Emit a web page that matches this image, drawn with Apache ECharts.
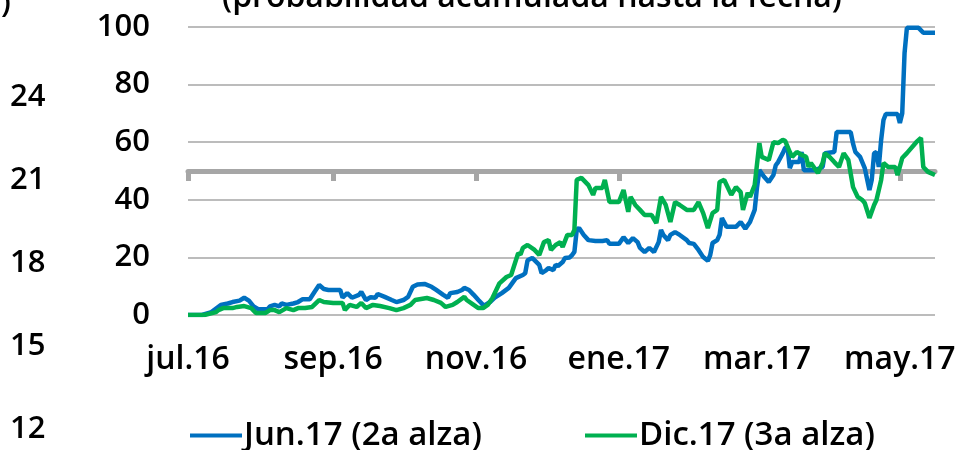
<!DOCTYPE html>
<html><head><meta charset="utf-8">
<script src="https://cdn.jsdelivr.net/npm/echarts@6/dist/echarts.min.js"></script>
<style>html,body{margin:0;padding:0;background:#fff}#c{width:959px;height:450px}</style>
</head><body><div id="c"></div>
<script>
const tickDates = ['2016-07-01','2016-09-01','2016-11-01','2017-01-01','2017-03-01','2017-05-01'];
const tickLabels = ['jul.16','sep.16','nov.16','ene.17','mar.17','may.17'];
const yTicks = [0,20,40,60,80,100];
const seriesNames = ['Jun.17 (2a alza)','Dic.17 (3a alza)'];
const sideLabels = ['24','21','18','15','12'];
const titleText = '(probabilidad acumulada hasta la fecha)';

const junDates = ['2016-07-01','2016-07-07','2016-07-11','2016-07-15','2016-07-18','2016-07-20','2016-07-23','2016-07-25','2016-07-27','2016-07-29','2016-07-31','2016-08-04','2016-08-05','2016-08-07','2016-08-09','2016-08-10','2016-08-12','2016-08-15','2016-08-17','2016-08-19','2016-08-22','2016-08-24','2016-08-26','2016-08-28','2016-08-30','2016-09-04','2016-09-05','2016-09-07','2016-09-09','2016-09-12','2016-09-13','2016-09-15','2016-09-17','2016-09-19','2016-09-20','2016-09-23','2016-09-26','2016-09-28','2016-10-01','2016-10-03','2016-10-05','2016-10-07','2016-10-10','2016-10-13','2016-10-15','2016-10-18','2016-10-20','2016-10-21','2016-10-24','2016-10-26','2016-10-27','2016-10-29','2016-10-31','2016-11-02','2016-11-04','2016-11-05','2016-11-07','2016-11-09','2016-11-12','2016-11-15','2016-11-18','2016-11-21','2016-11-22','2016-11-23','2016-11-25','2016-11-28','2016-11-29','2016-12-01','2016-12-02','2016-12-04','2016-12-05','2016-12-06','2016-12-08','2016-12-09','2016-12-11','2016-12-12','2016-12-13','2016-12-14','2016-12-15','2016-12-17','2016-12-19','2016-12-22','2016-12-25','2016-12-27','2016-12-28','2017-01-01','2017-01-03','2017-01-05','2017-01-07','2017-01-09','2017-01-10','2017-01-12','2017-01-14','2017-01-16','2017-01-18','2017-01-19','2017-01-20','2017-01-22','2017-01-23','2017-01-25','2017-01-27','2017-01-30','2017-01-31','2017-02-02','2017-02-04','2017-02-06','2017-02-08','2017-02-09','2017-02-10','2017-02-12','2017-02-13','2017-02-14','2017-02-16','2017-02-20','2017-02-22','2017-02-24','2017-02-26','2017-02-28','2017-03-01','2017-03-02','2017-03-04','2017-03-06','2017-03-08','2017-03-09','2017-03-10','2017-03-12','2017-03-13','2017-03-14','2017-03-15','2017-03-16','2017-03-19','2017-03-20','2017-03-21','2017-03-26','2017-03-29','2017-03-30','2017-04-03','2017-04-04','2017-04-07','2017-04-10','2017-04-11','2017-04-12','2017-04-14','2017-04-16','2017-04-18','2017-04-19','2017-04-20','2017-04-21','2017-04-22','2017-04-23','2017-04-24','2017-04-25','2017-04-30','2017-05-01','2017-05-02','2017-05-03','2017-05-04','2017-05-09','2017-05-11','2017-05-16'];
const junValues = [0,0,1,3.5,4,4.5,5,6,5,3,2,2,3,3.5,3,4,3.5,4,4.5,5.5,5.5,8,10.4,9,8.7,8.7,6,7.6,6,7,8,5.2,6.2,6,7.3,6.3,5.2,4.5,5.2,6.3,9.8,10.6,10.8,9.8,8.7,7,6,7.6,8,8.7,9.4,8.7,7,5.2,3.5,3.5,4.5,6,7.6,9.4,12.8,13.9,14.5,19,19.8,17.4,14.5,15.6,16.3,15.6,17.4,17,18.4,19.8,20,20.8,21.9,29.5,30.2,27.8,26,25.7,25.7,26,24.7,24.7,27,25,26.7,25.3,23.3,21.9,23.3,21.9,25.3,29.5,27.8,26,27.8,28.8,27.8,26,25,24.7,22.6,20.1,18.8,20.8,25,26,27.8,33.7,30.6,30.6,32.3,30,32.3,36.5,44.4,50.3,48,46.2,48.6,52,53.1,56.2,58,58.3,51,53.1,53.1,56.6,50.3,50.3,51.4,56.2,56.6,63.5,63.5,63.5,59.5,56.6,54.9,51,43.4,47,56.2,56.6,51.4,60.8,67.7,69.8,69.8,66.7,70,91,99.7,99.7,98,98];

const dicDates = ['2016-07-01','2016-07-08','2016-07-13','2016-07-14','2016-07-16','2016-07-20','2016-07-22','2016-07-25','2016-07-28','2016-07-30','2016-08-03','2016-08-05','2016-08-07','2016-08-09','2016-08-12','2016-08-15','2016-08-17','2016-08-20','2016-08-23','2016-08-26','2016-08-28','2016-09-01','2016-09-05','2016-09-06','2016-09-08','2016-09-11','2016-09-13','2016-09-15','2016-09-18','2016-09-21','2016-09-25','2016-09-28','2016-10-01','2016-10-04','2016-10-06','2016-10-11','2016-10-14','2016-10-17','2016-10-19','2016-10-22','2016-10-24','2016-10-27','2016-10-28','2016-10-31','2016-11-02','2016-11-04','2016-11-06','2016-11-08','2016-11-11','2016-11-14','2016-11-16','2016-11-19','2016-11-20','2016-11-21','2016-11-23','2016-11-26','2016-11-28','2016-11-30','2016-12-02','2016-12-03','2016-12-05','2016-12-07','2016-12-08','2016-12-10','2016-12-12','2016-12-13','2016-12-14','2016-12-16','2016-12-19','2016-12-21','2016-12-22','2016-12-25','2016-12-26','2016-12-28','2017-01-01','2017-01-03','2017-01-05','2017-01-06','2017-01-08','2017-01-10','2017-01-12','2017-01-15','2017-01-17','2017-01-19','2017-01-21','2017-01-23','2017-01-25','2017-01-27','2017-01-30','2017-02-02','2017-02-04','2017-02-06','2017-02-08','2017-02-10','2017-02-12','2017-02-13','2017-02-15','2017-02-18','2017-02-20','2017-02-22','2017-02-23','2017-02-25','2017-02-26','2017-02-28','2017-03-02','2017-03-03','2017-03-06','2017-03-08','2017-03-10','2017-03-12','2017-03-13','2017-03-15','2017-03-16','2017-03-18','2017-03-20','2017-03-22','2017-03-23','2017-03-24','2017-03-27','2017-03-29','2017-03-30','2017-04-01','2017-04-03','2017-04-05','2017-04-07','2017-04-09','2017-04-11','2017-04-13','2017-04-15','2017-04-16','2017-04-18','2017-04-20','2017-04-21','2017-04-23','2017-04-24','2017-04-26','2017-04-29','2017-04-30','2017-05-02','2017-05-04','2017-05-08','2017-05-10','2017-05-11','2017-05-13','2017-05-16'];
const dicValues = [0,0,1,1.7,2.4,2.4,2.8,3.1,2.4,0.7,0.7,1.7,1.7,1,2.4,1.7,2.4,2.4,2.8,5.2,4.5,4.2,4.2,1.7,3.5,2.8,4.2,2.4,3.5,3.1,2.4,1.7,2.4,3.5,5.2,5.9,5.2,4.2,2.8,3.5,4.5,6.3,5.2,3.5,2.4,2.4,3.5,5.9,11,13.2,13.9,21.5,21,23.3,24.3,22.6,20.8,25.3,26,22.6,24.3,25.3,23.6,27.8,27.8,29.5,46.9,47.6,45.1,41.7,44.1,44.1,46.9,39.2,39.2,43.4,35.8,41,38.2,36.5,34.7,34.7,31.9,41,38.2,32.3,39.2,38.2,36.5,36.5,39.2,35.4,30.2,35.4,36.5,46.2,46.9,41.7,44.4,42.7,36.5,42.4,41,45.1,59.7,54.9,53.8,60,59.7,60.8,60.5,56.6,54.9,56.6,55.6,54.9,51.4,52.8,49.3,52.8,56.2,54.9,53.1,51.4,56.2,53.8,44.4,41,39.9,38.9,33.7,38.2,39.9,46.9,52.8,51.4,51.4,48.6,54.5,56.2,60,61.5,51.4,49.7,48.6];

const axisStart = '2016-07-01';
const axisEnd = '2017-05-16';

const FONT = '"Open Sans", sans-serif';
const FW = 600;
const t = d => Date.UTC(+d.slice(0,4), +d.slice(5,7) - 1, +d.slice(8,10));
const tickTimes = tickDates.map(t);
const pairs = (ds, vs) => ds.map((d, i) => [t(d), vs[i]]);
const fmt = v => { const i = tickTimes.indexOf(v); return i >= 0 ? tickLabels[i] : ''; };
const txt = size => ({color: '#000', fontFamily: FONT, fontSize: size, fontWeight: FW});

const chart = echarts.init(document.getElementById('c'), null, {renderer: 'canvas'});
chart.setOption({
  animation: false,
  backgroundColor: '#fff',
  grid: {left: 188, right: 24, top: 27, bottom: 135},
  xAxis: [{
    type: 'value', min: t(axisStart), max: t(axisEnd),
    axisLine: {show: false}, axisTick: {show: false}, splitLine: {show: false},
    axisLabel: Object.assign({customValues: tickTimes, formatter: fmt, margin: 29, hideOverlap: false, showMinLabel: true, showMaxLabel: true}, txt(32))
  }, {
    type: 'value', min: t(axisStart), max: t(axisEnd), position: 'bottom', offset: -144,
    axisLine: {show: true, onZero: false, lineStyle: {color: '#A6A6A6', width: 5}},
    axisTick: {show: true, customValues: tickTimes, length: 10, lineStyle: {color: '#A6A6A6', width: 5}},
    axisLabel: {show: false}, splitLine: {show: false}
  }],
  yAxis: {
    type: 'value', min: 0, max: 100, interval: 20,
    axisLine: {show: false}, axisTick: {show: false},
    splitLine: {lineStyle: {color: '#A6A6A6', width: 1.5}},
    axisLabel: Object.assign({margin: 38}, txt(31))
  },
  legend: [{
    left: 185, top: 414, data: [seriesNames[0]], icon: 'rect', itemWidth: 52, itemHeight: 4, itemGap: 0,
    textStyle: Object.assign({padding: [0,0,0,-3]}, txt(33))
  }, {
    left: 580, top: 414, data: [seriesNames[1]], icon: 'rect', itemWidth: 52, itemHeight: 4, itemGap: 0,
    textStyle: Object.assign({padding: [0,0,0,-3]}, txt(33))
  }],
  graphic: [
    {type: 'text', left: 222, top: -18, style: {text: titleText, font: FW + ' 32px ' + FONT, fill: '#000'}},
    {type: 'text', left: 1, top: -12, style: {text: ')', font: FW + ' 31px ' + FONT, fill: '#000'}}
  ].concat(sideLabels.map((s, i) => ({type: 'text', left: 10, top: 82 + i * 83, style: {text: s, font: FW + ' 31px ' + FONT, fill: '#000'}}))),
  series: [{
    name: seriesNames[0], type: 'line', xAxisIndex: 0, data: pairs(junDates, junValues),
    showSymbol: false, symbol: 'none', lineStyle: {color: '#0070C0', width: 4.5}, itemStyle: {color: '#0070C0'}
  }, {
    name: seriesNames[1], type: 'line', xAxisIndex: 0, data: pairs(dicDates, dicValues),
    showSymbol: false, symbol: 'none', lineStyle: {color: '#00B050', width: 4.5}, itemStyle: {color: '#00B050'}
  }]
});
</script></body></html>
